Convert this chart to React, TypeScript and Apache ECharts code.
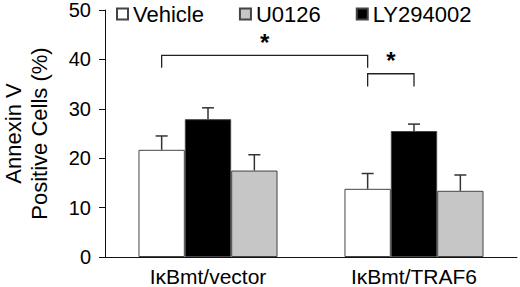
import { useEffect, useRef } from 'react';
import * as echarts from 'echarts';

const categories = ['IκBmt/vector', 'IκBmt/TRAF6'];
const yMin = 0;
const yMax = 50;
const yInterval = 10;
const yAxisName = 'Annexin V\nPositive Cells (%)';

// series drawn in bar order: Vehicle, LY294002, U0126
const vehicle = [21.7, 13.8];
const vehicleErr = [24.5, 16.9];
const ly294002 = [27.9, 25.5];
const ly294002Err = [30.2, 26.9];
const u0126 = [17.5, 13.4];
const u0126Err = [20.7, 16.6];
const legendOrder = ['Vehicle', 'U0126', 'LY294002'];

// [fromCategory, fromSlot, toCategory, toSlot, legLeft, legRight, top]
const brackets = [
  [0, 0, 1, 0, 38.3, 38.3, 40.8],
  [1, 0, 1, 1, 34.5, 34.5, 37.1],
];
const bracketLabel = '*';

const FONT = "'Liberation Sans', Arial, sans-serif";
const BAR_FRAC = 0.225;

export default function App() {
  const ref = useRef<HTMLDivElement>(null);
  useEffect(() => {
    if (!ref.current) return;
    const chart = echarts.init(ref.current, null, { renderer: 'svg' });

    const errData: number[][] = [];
    [vehicleErr, ly294002Err, u0126Err].forEach((arr, slot) => {
      const vals = [vehicle, ly294002, u0126][slot];
      arr.forEach((hi, cat) => errData.push([cat, slot, vals[cat], hi]));
    });

    const barStyle = (color: string) => ({
      color,
      borderColor: '#444',
      borderWidth: 1,
    });

    chart.setOption({
      animation: false,
      textStyle: { fontFamily: FONT },
      grid: { left: 105, right: 3, top: 10, bottom: 30, containLabel: false, outerBoundsMode: 'none' },
      legend: {
        data: legendOrder,
        left: 116,
        top: 3,
        padding: 0,
        icon: 'rect',
        itemWidth: 11,
        itemHeight: 11,
        itemGap: 35,
        textStyle: { fontSize: 22, lineHeight: 20, color: '#000', fontFamily: FONT },
      },
      xAxis: {
        type: 'category',
        data: categories,
        axisLine: { lineStyle: { color: '#111', width: 1 } },
        axisTick: { show: false },
        axisLabel: { fontSize: 21, lineHeight: 19, color: '#000', margin: 10, fontFamily: FONT },
      },
      yAxis: {
        type: 'value',
        min: yMin,
        max: yMax,
        interval: yInterval,
        name: yAxisName,
        nameLocation: 'middle',
        nameRotate: 90,
        nameGap: 53,
        nameTextStyle: { fontSize: 22, color: '#000', lineHeight: 26, fontFamily: FONT },
        splitLine: { show: false },
        axisLine: { show: true, lineStyle: { color: '#111', width: 1 } },
        axisTick: { show: true, length: 6, lineStyle: { color: '#111' } },
        axisLabel: { fontSize: 20, lineHeight: 16, color: '#000', margin: 14, fontFamily: FONT },
      },
      series: [
        {
          name: 'Vehicle',
          type: 'bar',
          data: vehicle,
          barWidth: '22.5%',
          barGap: '0%',
          itemStyle: barStyle('#ffffff'),
        },
        {
          name: 'LY294002',
          type: 'bar',
          data: ly294002,
          barWidth: '22.5%',
          barGap: '0%',
          itemStyle: barStyle('#000000'),
        },
        {
          name: 'U0126',
          type: 'bar',
          data: u0126,
          barWidth: '22.5%',
          barGap: '0%',
          itemStyle: barStyle('#c6c6c6'),
        },
        {
          name: 'errors',
          type: 'custom',
          z: 5,
          data: errData,
          encode: { x: 0, y: 3 },
          renderItem: (params: any, api: any) => {
            const cat = api.value(0);
            const slot = api.value(1);
            const bw = api.size([1, 0])[0] * BAR_FRAC;
            const p1 = api.coord([cat, api.value(2)]);
            const p2 = api.coord([cat, api.value(3)]);
            const x = p1[0] + (slot - 1) * bw;
            const st = { stroke: '#333', lineWidth: 1.5 };
            return {
              type: 'group',
              children: [
                { type: 'line', shape: { x1: x, y1: p1[1], x2: x, y2: p2[1] }, style: st },
                { type: 'line', shape: { x1: x - 6, y1: p2[1], x2: x + 6, y2: p2[1] }, style: st },
              ],
            };
          },
        },
        {
          name: 'brackets',
          type: 'custom',
          z: 5,
          clip: false,
          data: brackets,
          encode: { x: 0, y: 6 },
          renderItem: (params: any, api: any) => {
            const bw = api.size([1, 0])[0] * BAR_FRAC;
            const a = api.coord([api.value(0), api.value(4)]);
            const b = api.coord([api.value(2), api.value(5)]);
            const xa = a[0] + (api.value(1) - 1) * bw;
            const xb = b[0] + (api.value(3) - 1) * bw;
            const ytop = api.coord([api.value(0), api.value(6)])[1];
            return {
              type: 'group',
              children: [
                {
                  type: 'polyline',
                  shape: { points: [[xa, a[1]], [xa, ytop], [xb, ytop], [xb, b[1]]] },
                  style: { stroke: '#222', lineWidth: 1.3, fill: 'none' },
                },
                {
                  type: 'text',
                  x: (xa + xb) / 2,
                  y: ytop - 13,
                  style: {
                    text: bracketLabel,
                    fontSize: 24,
                    lineHeight: 12,
                    fontWeight: 'bold',
                    fontFamily: FONT,
                    fill: '#000',
                    align: 'center',
                    verticalAlign: 'middle',
                  },
                },
              ],
            };
          },
        },
      ],
    });
    return () => chart.dispose();
  }, []);
  return <div ref={ref} style={{ width: 520, height: 287, position: 'absolute', left: 0, top: 0, background: '#fff' }} />;
}
